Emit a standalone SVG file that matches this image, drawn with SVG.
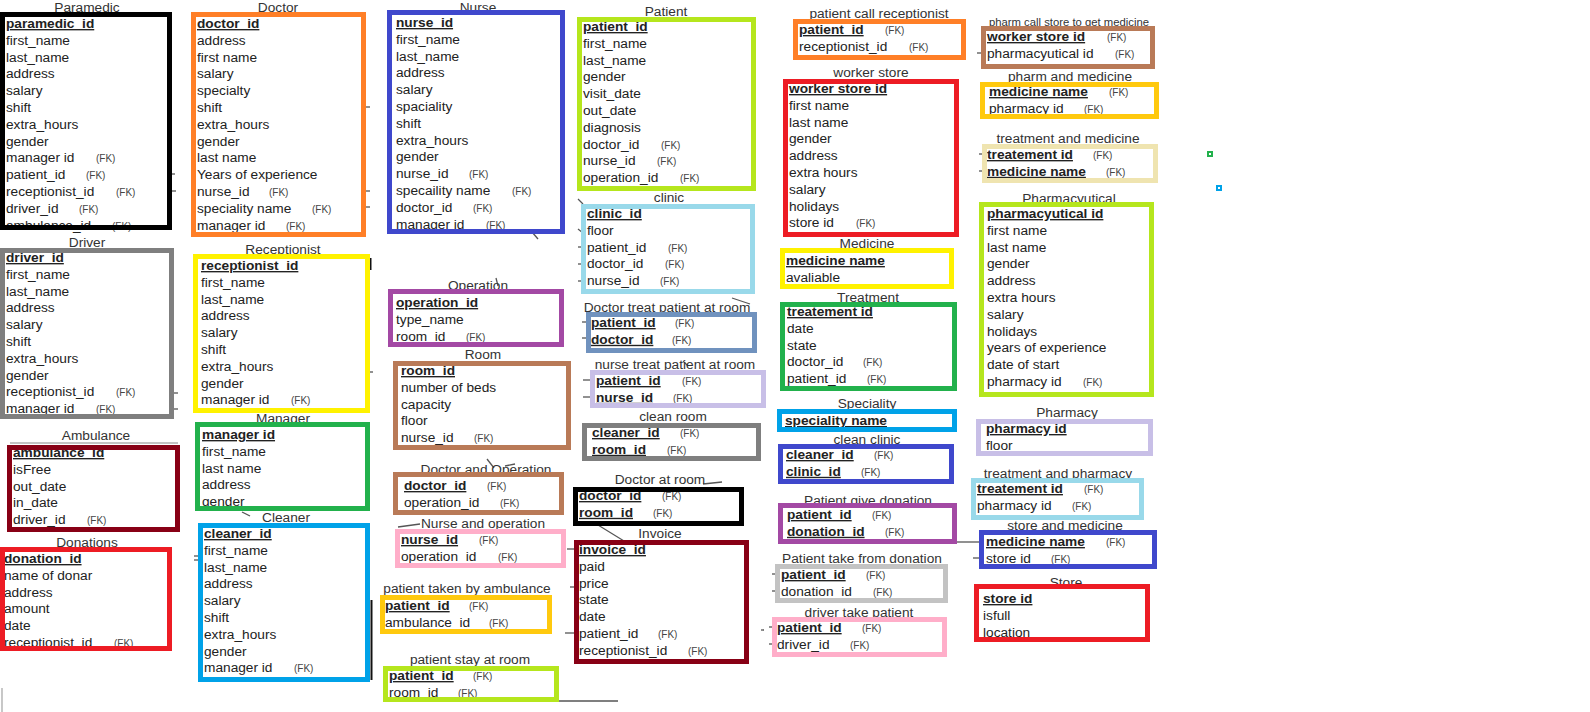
<svg xmlns="http://www.w3.org/2000/svg" width="1590" height="712" viewBox="0 0 1590 712">
<style>
text{font-family:"Liberation Sans",Arial,sans-serif;font-size:13.7px;fill:#222}
.ttl{text-anchor:middle;fill:#333}
.pk{font-weight:bold;text-decoration:underline}
.fk{font-size:10px;fill:#444}
.b{fill:none;stroke-width:5}
.bg{fill:#fff;stroke:none}
.cn line,.cn path{stroke:#555;stroke-width:1.3;fill:none}
.k{stroke:#000}.or{stroke:#FF7F27}.bl{stroke:#3F48CC}.li{stroke:#B5E61D}.gr{stroke:#7F7F7F}
.ye{stroke:#FFF200}.gn{stroke:#22B14C}.dr{stroke:#880015}.rd{stroke:#ED1C24}.sk{stroke:#00A2E8}
.pu{stroke:#A349A4}.br{stroke:#B97A57}.lb{stroke:#99D9EA}.st{stroke:#7092BE}.lv{stroke:#C8BFE7}
.pk2{stroke:#FFAEC9}.am{stroke:#FFC90E}.be{stroke:#EFE4B0}.si{stroke:#C3C3C3}
</style>
<rect width="1590" height="712" fill="#fff"/>
<g id="connectors" class="cn">
<line x1="578" y1="199" x2="583" y2="204"/>
<line x1="578" y1="229" x2="583" y2="233"/>
<line x1="532" y1="232" x2="538" y2="239"/>
<line x1="578" y1="247" x2="583" y2="247"/>
<line x1="578" y1="264" x2="583" y2="264"/>
<line x1="578" y1="281" x2="583" y2="281"/>
<line x1="582" y1="322" x2="588" y2="322"/>
<line x1="582" y1="338" x2="588" y2="338"/>
<line x1="732" y1="298" x2="750" y2="304"/>
<line x1="583" y1="380" x2="590" y2="380"/>
<line x1="583" y1="397" x2="590" y2="397"/>
<line x1="683" y1="361" x2="688" y2="366"/>
<line x1="496" y1="278" x2="498" y2="286"/>
<line x1="487" y1="459" x2="494" y2="468"/>
<line x1="505" y1="466" x2="515" y2="464"/>
<line x1="703" y1="484" x2="722" y2="482"/>
<line x1="598" y1="525" x2="624" y2="541"/>
<line x1="398" y1="527" x2="420" y2="524"/>
<line x1="567" y1="549" x2="577" y2="549"/>
<line x1="570" y1="587" x2="577" y2="587"/>
<line x1="565" y1="633" x2="577" y2="633"/>
<line x1="557" y1="701" x2="618" y2="701"/>
<line x1="485" y1="698" x2="491" y2="698"/>
<line x1="371.5" y1="600" x2="371.5" y2="680" style="stroke:#111;stroke-width:2"/>
<line x1="366" y1="107" x2="370" y2="107"/>
<line x1="366" y1="191" x2="370" y2="191"/>
<line x1="366" y1="207" x2="370" y2="207"/>
<line x1="172" y1="174" x2="175" y2="174"/>
<line x1="172" y1="191" x2="176" y2="191"/>
<line x1="174" y1="393" x2="178" y2="393"/>
<line x1="174" y1="409" x2="178" y2="409"/>
<line x1="370.5" y1="258" x2="370.5" y2="270" style="stroke:#111;stroke-width:2"/>
<line x1="370" y1="372" x2="373" y2="372"/>
<line x1="194" y1="556" x2="198" y2="556"/>
<line x1="194" y1="560" x2="198" y2="560"/>
<line x1="242" y1="512" x2="250" y2="516"/>
<line x1="2" y1="688" x2="2" y2="712" style="stroke:#aaa"/>
<line x1="977" y1="53" x2="981" y2="53"/>
<line x1="979" y1="154" x2="982" y2="154"/>
<line x1="979" y1="171" x2="982" y2="171"/>
<line x1="957" y1="542" x2="979" y2="542"/>
<line x1="973" y1="558" x2="979" y2="558"/>
<line x1="772" y1="574" x2="776" y2="574"/>
<line x1="772" y1="591" x2="776" y2="591"/>
<line x1="769" y1="627" x2="773" y2="627"/>
<line x1="769" y1="644" x2="773" y2="644"/>
<line x1="974" y1="598" x2="978" y2="598" style="stroke:#111;stroke-width:2"/>
<line x1="761" y1="630" x2="764" y2="630"/>
</g>

<g id="paramedic">
<text class="ttl" x="87" y="11.5">Paramedic</text>
<rect class="bg" x="2.5" y="14.5" width="167" height="213"/>
<text class="pk" x="6" y="28">paramedic_id</text>
<text x="6" y="44.8">first_name</text>
<text x="6" y="61.6">last_name</text>
<text x="6" y="78.4">address</text>
<text x="6" y="95.2">salary</text>
<text x="6" y="112">shift</text>
<text x="6" y="128.8">extra_hours</text>
<text x="6" y="145.6">gender</text>
<text x="6" y="162.4">manager id</text><text class="fk" x="96" y="162.4">(FK)</text>
<text x="6" y="179.2">patient_id</text><text class="fk" x="86" y="179.2">(FK)</text>
<text x="6" y="196">receptionist_id</text><text class="fk" x="116" y="196">(FK)</text>
<text x="6" y="212.8">driver_id</text><text class="fk" x="79" y="212.8">(FK)</text>
<text x="6" y="229.6">ambulance_id</text><text class="fk" x="112" y="229.6">(FK)</text>
<rect class="b k" x="2.5" y="14.5" width="167" height="213"/>
</g>

<g id="doctor">
<text class="ttl" x="278" y="11.5">Doctor</text>
<rect class="bg" x="193.5" y="14.5" width="170" height="220"/>
<text class="pk" x="197" y="28">doctor_id</text>
<text x="197" y="44.8">address</text>
<text x="197" y="61.6">first name</text>
<text x="197" y="78.4">salary</text>
<text x="197" y="95.2">specialty</text>
<text x="197" y="112">shift</text>
<text x="197" y="128.8">extra_hours</text>
<text x="197" y="145.6">gender</text>
<text x="197" y="162.4">last name</text>
<text x="197" y="179.2">Years of experience</text>
<text x="197" y="196">nurse_id</text><text class="fk" x="269" y="196">(FK)</text>
<text x="197" y="212.8">speciality name</text><text class="fk" x="312" y="212.8">(FK)</text>
<text x="197" y="229.6">manager id</text><text class="fk" x="286" y="229.6">(FK)</text>
<rect class="b or" x="193.5" y="14.5" width="170" height="220"/>
</g>

<g id="nurse">
<text class="ttl" x="478" y="11.5">Nurse</text>
<rect class="bg" x="389.5" y="12.5" width="173" height="219"/>
<text class="pk" x="396" y="27">nurse_id</text>
<text x="396" y="43.8">first_name</text>
<text x="396" y="60.6">last_name</text>
<text x="396" y="77.4">address</text>
<text x="396" y="94.2">salary</text>
<text x="396" y="111">spaciality</text>
<text x="396" y="127.8">shift</text>
<text x="396" y="144.6">extra_hours</text>
<text x="396" y="161.4">gender</text>
<text x="396" y="178.2">nurse_id</text><text class="fk" x="469" y="178.2">(FK)</text>
<text x="396" y="195">specaility name</text><text class="fk" x="512" y="195">(FK)</text>
<text x="396" y="211.8">doctor_id</text><text class="fk" x="473" y="211.8">(FK)</text>
<text x="396" y="228.6">manager id</text><text class="fk" x="486" y="228.6">(FK)</text>
<rect class="b bl" x="389.5" y="12.5" width="173" height="219"/>
</g>

<g id="patient">
<text class="ttl" x="666" y="15.5">Patient</text>
<rect class="bg" x="579.5" y="19.5" width="174" height="169"/>
<text class="pk" x="583" y="31">patient_id</text>
<text x="583" y="47.8">first_name</text>
<text x="583" y="64.6">last_name</text>
<text x="583" y="81.4">gender</text>
<text x="583" y="98.2">visit_date</text>
<text x="583" y="115">out_date</text>
<text x="583" y="131.8">diagnosis</text>
<text x="583" y="148.6">doctor_id</text><text class="fk" x="661" y="148.6">(FK)</text>
<text x="583" y="165.4">nurse_id</text><text class="fk" x="657" y="165.4">(FK)</text>
<text x="583" y="182.2">operation_id</text><text class="fk" x="680" y="182.2">(FK)</text>
<rect class="b li" x="579.5" y="19.5" width="174" height="169"/>
</g>

<g id="driver">
<text class="ttl" x="87" y="246.5">Driver</text>
<rect class="bg" x="2.5" y="250.5" width="169" height="166"/>
<text class="pk" x="6" y="262">driver_id</text>
<text x="6" y="278.8">first_name</text>
<text x="6" y="295.6">last_name</text>
<text x="6" y="312.4">address</text>
<text x="6" y="329.2">salary</text>
<text x="6" y="346">shift</text>
<text x="6" y="362.8">extra_hours</text>
<text x="6" y="379.6">gender</text>
<text x="6" y="396.4">receptionist_id</text><text class="fk" x="116" y="396.4">(FK)</text>
<text x="6" y="413.2">manager id</text><text class="fk" x="96" y="413.2">(FK)</text>
<rect class="b gr" x="2.5" y="250.5" width="169" height="166"/>
</g>

<g id="receptionist">
<text class="ttl" x="283" y="253.5">Receptionist</text>
<rect class="bg" x="195.5" y="256.5" width="172" height="154"/>
<text class="pk" x="201" y="270">receptionist_id</text>
<text x="201" y="286.8">first_name</text>
<text x="201" y="303.6">last_name</text>
<text x="201" y="320.4">address</text>
<text x="201" y="337.2">salary</text>
<text x="201" y="354">shift</text>
<text x="201" y="370.8">extra_hours</text>
<text x="201" y="387.6">gender</text>
<text x="201" y="404.4">manager id</text><text class="fk" x="291" y="404.4">(FK)</text>
<rect class="b ye" x="195.5" y="256.5" width="172" height="154"/>
</g>

<g id="manager">
<text class="ttl" x="283" y="422.5">Manager</text>
<rect class="bg" x="197.5" y="424.5" width="170" height="84"/>
<text class="pk" x="202" y="439">manager id</text>
<text x="202" y="455.8">first_name</text>
<text x="202" y="472.6">last name</text>
<text x="202" y="489.4">address</text>
<text x="202" y="506.2">gender</text>
<rect class="b gn" x="197.5" y="424.5" width="170" height="84"/>
</g>

<g id="ambulance">
<text class="ttl" x="96" y="439.5">Ambulance</text>
<line x1="10" y1="443" x2="178" y2="443" style="stroke:#888;stroke-width:1"/>
<rect class="bg" x="9.5" y="447.5" width="168" height="82"/>
<text class="pk" x="13" y="457">ambulance_id</text>
<text x="13" y="473.8">isFree</text>
<text x="13" y="490.6">out_date</text>
<text x="13" y="507.4">in_date</text>
<text x="13" y="524.2">driver_id</text><text class="fk" x="87" y="524.2">(FK)</text>
<rect class="b dr" x="9.5" y="447.5" width="168" height="82"/>
</g>

<g id="donations">
<text class="ttl" x="87" y="546.5">Donations</text>
<rect class="bg" x="2.5" y="549.5" width="167" height="99"/>
<text class="pk" x="4" y="563">donation_id</text>
<text x="4" y="579.8">name of donar</text>
<text x="4" y="596.6">address</text>
<text x="4" y="613.4">amount</text>
<text x="4" y="630.2">date</text>
<text x="4" y="647">receptionist_id</text><text class="fk" x="114" y="647">(FK)</text>
<rect class="b rd" x="2.5" y="549.5" width="167" height="99"/>
</g>

<g id="cleaner">
<text class="ttl" x="286" y="521.5">Cleaner</text>
<rect class="bg" x="200.5" y="525.5" width="167" height="154"/>
<text class="pk" x="204" y="538">cleaner_id</text>
<text x="204" y="554.8">first_name</text>
<text x="204" y="571.6">last_name</text>
<text x="204" y="588.4">address</text>
<text x="204" y="605.2">salary</text>
<text x="204" y="622">shift</text>
<text x="204" y="638.8">extra_hours</text>
<text x="204" y="655.6">gender</text>
<text x="204" y="672.4">manager id</text><text class="fk" x="294" y="672.4">(FK)</text>
<rect class="b sk" x="200.5" y="525.5" width="167" height="154"/>
</g>

<g id="clinic">
<text class="ttl" x="669" y="201.5">clinic</text>
<rect class="bg" x="583.5" y="206.5" width="169" height="85"/>
<text class="pk" x="587" y="218">clinic_id</text>
<text x="587" y="234.8">floor</text>
<text x="587" y="251.6">patient_id</text><text class="fk" x="668" y="251.6">(FK)</text>
<text x="587" y="268.4">doctor_id</text><text class="fk" x="665" y="268.4">(FK)</text>
<text x="587" y="285.2">nurse_id</text><text class="fk" x="660" y="285.2">(FK)</text>
<rect class="b lb" x="583.5" y="206.5" width="169" height="85"/>
</g>

<g id="operation">
<text class="ttl" x="478" y="289.5">Operation</text>
<rect class="bg" x="390.5" y="291.5" width="171" height="53"/>
<text class="pk" x="396" y="307">operation_id</text>
<text x="396" y="323.8">type_name</text>
<text x="396" y="340.6">room_id</text><text class="fk" x="466" y="340.6">(FK)</text>
<rect class="b pu" x="390.5" y="291.5" width="171" height="53"/>
</g>

<g id="room">
<text class="ttl" x="483" y="358.5">Room</text>
<rect class="bg" x="395.5" y="363.5" width="173" height="84"/>
<text class="pk" x="401" y="375">room_id</text>
<text x="401" y="391.8">number of beds</text>
<text x="401" y="408.6">capacity</text>
<text x="401" y="425.4">floor</text>
<text x="401" y="442.2">nurse_id</text><text class="fk" x="474" y="442.2">(FK)</text>
<rect class="b br" x="395.5" y="363.5" width="173" height="84"/>
</g>

<g id="doctor-treat-patient">
<text class="ttl" x="667" y="311.5">Doctor treat patient at room</text>
<rect class="bg" x="588.5" y="314.5" width="166" height="36"/>
<text class="pk" x="591" y="327">patient_id</text><text class="fk" x="675" y="327">(FK)</text>
<text class="pk" x="591" y="343.8">doctor_id</text><text class="fk" x="672" y="343.8">(FK)</text>
<rect class="b st" x="588.5" y="314.5" width="166" height="36"/>
</g>

<g id="nurse-treat-patient">
<text class="ttl" x="675" y="368.5">nurse treat patient at room</text>
<rect class="bg" x="592.5" y="372.5" width="171" height="33"/>
<text class="pk" x="596" y="385">patient_id</text><text class="fk" x="682" y="385">(FK)</text>
<text class="pk" x="596" y="401.8">nurse_id</text><text class="fk" x="673" y="401.8">(FK)</text>
<rect class="b lv" x="592.5" y="372.5" width="171" height="33"/>
</g>

<g id="clean-room">
<text class="ttl" x="673" y="420.5">clean room</text>
<rect class="bg" x="584.5" y="425.5" width="174" height="33"/>
<text class="pk" x="592" y="437">cleaner_id</text><text class="fk" x="680" y="437">(FK)</text>
<text class="pk" x="592" y="453.8">room_id</text><text class="fk" x="667" y="453.8">(FK)</text>
<rect class="b gr" x="584.5" y="425.5" width="174" height="33"/>
</g>

<g id="doctor-and-operation">
<text class="ttl" x="486" y="473.5">Doctor and Operation</text>
<rect class="bg" x="395.5" y="474.5" width="166" height="38"/>
<text class="pk" x="404" y="490">doctor_id</text><text class="fk" x="487" y="490">(FK)</text>
<text x="404" y="506.8">operation_id</text><text class="fk" x="500" y="506.8">(FK)</text>
<rect class="b br" x="395.5" y="474.5" width="166" height="38"/>
</g>

<g id="doctor-at-room">
<text class="ttl" x="660" y="483.5">Doctor at room</text>
<rect class="bg" x="575.5" y="489.5" width="166" height="34"/>
<text class="pk" x="579" y="500">doctor_id</text><text class="fk" x="662" y="500">(FK)</text>
<text class="pk" x="579" y="516.8">room_id</text><text class="fk" x="653" y="516.8">(FK)</text>
<rect class="b k" x="575.5" y="489.5" width="166" height="34"/>
</g>

<g id="nurse-and-operation">
<text class="ttl" x="483" y="527.5">Nurse and operation</text>
<rect class="bg" x="397.5" y="531.5" width="166" height="34"/>
<text class="pk" x="401" y="544">nurse_id</text><text class="fk" x="479" y="544">(FK)</text>
<text x="401" y="560.8">operation_id</text><text class="fk" x="498" y="560.8">(FK)</text>
<rect class="b pk2" x="397.5" y="531.5" width="166" height="34"/>
</g>

<g id="invoice">
<text class="ttl" x="660" y="537.5">Invoice</text>
<rect class="bg" x="576.5" y="542.5" width="170" height="119"/>
<text class="pk" x="579" y="554">invoice_id</text>
<text x="579" y="570.8">paid</text>
<text x="579" y="587.6">price</text>
<text x="579" y="604.4">state</text>
<text x="579" y="621.2">date</text>
<text x="579" y="638">patient_id</text><text class="fk" x="658" y="638">(FK)</text>
<text x="579" y="654.8">receptionist_id</text><text class="fk" x="688" y="654.8">(FK)</text>
<rect class="b dr" x="576.5" y="542.5" width="170" height="119"/>
</g>

<g id="patient-taken-by-ambulance">
<text class="ttl" x="467" y="592.5">patient taken by ambulance</text>
<rect class="bg" x="382.5" y="597.5" width="167" height="34"/>
<text class="pk" x="385" y="610">patient_id</text><text class="fk" x="469" y="610">(FK)</text>
<text x="385" y="626.8">ambulance_id</text><text class="fk" x="489" y="626.8">(FK)</text>
<rect class="b am" x="382.5" y="597.5" width="167" height="34"/>
</g>

<g id="patient-stay-at-room">
<text class="ttl" x="470" y="663.5">patient stay at room</text>
<rect class="bg" x="385.5" y="668.5" width="171" height="31"/>
<text class="pk" x="389" y="680">patient_id</text><text class="fk" x="473" y="680">(FK)</text>
<text x="389" y="696.8">room_id</text><text class="fk" x="458" y="696.8">(FK)</text>
<rect class="b li" x="385.5" y="668.5" width="171" height="31"/>
</g>

<g id="patient-call-receptionist">
<text class="ttl" x="879" y="17.5">patient call receptionist</text>
<rect class="bg" x="795.5" y="21.5" width="168" height="36"/>
<text class="pk" x="799" y="34">patient_id</text><text class="fk" x="885" y="34">(FK)</text>
<text x="799" y="50.8">receptionist_id</text><text class="fk" x="909" y="50.8">(FK)</text>
<rect class="b or" x="795.5" y="21.5" width="168" height="36"/>
</g>

<g id="worker-store">
<text class="ttl" x="871" y="76.5">worker store</text>
<rect class="bg" x="785.5" y="81.5" width="171" height="153"/>
<text class="pk" x="789" y="93">worker store id</text>
<text x="789" y="109.8">first name</text>
<text x="789" y="126.6">last name</text>
<text x="789" y="143.4">gender</text>
<text x="789" y="160.2">address</text>
<text x="789" y="177">extra hours</text>
<text x="789" y="193.8">salary</text>
<text x="789" y="210.6">holidays</text>
<text x="789" y="227.4">store id</text><text class="fk" x="856" y="227.4">(FK)</text>
<rect class="b rd" x="785.5" y="81.5" width="171" height="153"/>
</g>

<g id="pharm-call-store">
<text class="ttl" x="1069" y="26" style="font-size:11.3px">pharm call store to get medicine</text>
<rect class="bg" x="983.5" y="28.5" width="169" height="38"/>
<text class="pk" x="987" y="41">worker store id</text><text class="fk" x="1107" y="41">(FK)</text>
<text x="987" y="57.8">pharmacyutical id</text><text class="fk" x="1115" y="57.8">(FK)</text>
<rect class="b br" x="983.5" y="28.5" width="169" height="38"/>
</g>

<g id="pharm-and-medicine">
<text class="ttl" x="1070" y="80.5">pharm and medicine</text>
<rect class="bg" x="982.5" y="84.5" width="174" height="32"/>
<text class="pk" x="989" y="96">medicine name</text><text class="fk" x="1109" y="96">(FK)</text>
<text x="989" y="112.8">pharmacy id</text><text class="fk" x="1084" y="112.8">(FK)</text>
<rect class="b am" x="982.5" y="84.5" width="174" height="32"/>
</g>

<g id="treatment-and-medicine">
<text class="ttl" x="1068" y="142.5">treatment and medicine</text>
<rect class="bg" x="984.5" y="146.5" width="171" height="34"/>
<text class="pk" x="987" y="159">treatement id</text><text class="fk" x="1093" y="159">(FK)</text>
<text class="pk" x="987" y="175.8">medicine name</text><text class="fk" x="1106" y="175.8">(FK)</text>
<rect class="b be" x="984.5" y="146.5" width="171" height="34"/>
</g>

<g id="pharmacyutical">
<text class="ttl" x="1069" y="202.5">Pharmacyutical</text>
<rect class="bg" x="981.5" y="204.5" width="170" height="190"/>
<text class="pk" x="987" y="218">pharmacyutical id</text>
<text x="987" y="234.8">first name</text>
<text x="987" y="251.6">last name</text>
<text x="987" y="268.4">gender</text>
<text x="987" y="285.2">address</text>
<text x="987" y="302">extra hours</text>
<text x="987" y="318.8">salary</text>
<text x="987" y="335.6">holidays</text>
<text x="987" y="352.4">years of experience</text>
<text x="987" y="369.2">date of start</text>
<text x="987" y="386">pharmacy id</text><text class="fk" x="1083" y="386">(FK)</text>
<rect class="b li" x="981.5" y="204.5" width="170" height="190"/>
</g>

<g id="medicine">
<text class="ttl" x="867" y="247.5">Medicine</text>
<rect class="bg" x="782.5" y="250.5" width="169" height="36"/>
<text class="pk" x="786" y="265">medicine name</text>
<text x="786" y="281.8">avaliable</text>
<rect class="b ye" x="782.5" y="250.5" width="169" height="36"/>
</g>

<g id="treatment">
<text class="ttl" x="868" y="301.5">Treatment</text>
<rect class="bg" x="782.5" y="304.5" width="172" height="84"/>
<text class="pk" x="787" y="316">treatement id</text>
<text x="787" y="332.8">date</text>
<text x="787" y="349.6">state</text>
<text x="787" y="366.4">doctor_id</text><text class="fk" x="863" y="366.4">(FK)</text>
<text x="787" y="383.2">patient_id</text><text class="fk" x="867" y="383.2">(FK)</text>
<rect class="b gn" x="782.5" y="304.5" width="172" height="84"/>
</g>

<g id="speciality">
<text class="ttl" x="867" y="407.5">Speciality</text>
<rect class="bg" x="779.5" y="411.5" width="175" height="18"/>
<text class="pk" x="785" y="425">speciality name</text>
<rect class="b sk" x="779.5" y="411.5" width="175" height="18"/>
</g>

<g id="clean-clinic">
<text class="ttl" x="867" y="443.5">clean clinic</text>
<rect class="bg" x="780.5" y="446.5" width="171" height="35"/>
<text class="pk" x="786" y="459">cleaner_id</text><text class="fk" x="874" y="459">(FK)</text>
<text class="pk" x="786" y="475.8">clinic_id</text><text class="fk" x="861" y="475.8">(FK)</text>
<rect class="b bl" x="780.5" y="446.5" width="171" height="35"/>
</g>

<g id="pharmacy">
<text class="ttl" x="1067" y="416.5">Pharmacy</text>
<rect class="bg" x="978.5" y="421.5" width="172" height="32"/>
<text class="pk" x="986" y="433">pharmacy id</text>
<text x="986" y="449.8">floor</text>
<rect class="b lv" x="978.5" y="421.5" width="172" height="32"/>
</g>

<g id="treatment-and-pharmacy">
<text class="ttl" x="1058" y="477.5">treatment and pharmacy</text>
<rect class="bg" x="973.5" y="480.5" width="168" height="37"/>
<text class="pk" x="977" y="493">treatement id</text><text class="fk" x="1084" y="493">(FK)</text>
<text x="977" y="509.8">pharmacy id</text><text class="fk" x="1072" y="509.8">(FK)</text>
<rect class="b lb" x="973.5" y="480.5" width="168" height="37"/>
</g>

<g id="patient-give-donation">
<text class="ttl" x="868" y="504.5">Patient give donation</text>
<rect class="bg" x="780.5" y="505.5" width="174" height="36"/>
<text class="pk" x="787" y="519">patient_id</text><text class="fk" x="872" y="519">(FK)</text>
<text class="pk" x="787" y="535.8">donation_id</text><text class="fk" x="885" y="535.8">(FK)</text>
<rect class="b pu" x="780.5" y="505.5" width="174" height="36"/>
</g>

<g id="store-and-medicine">
<text class="ttl" x="1065" y="529.5">store and medicine</text>
<rect class="bg" x="981.5" y="532.5" width="173" height="34"/>
<text class="pk" x="986" y="546">medicine name</text><text class="fk" x="1106" y="546">(FK)</text>
<text x="986" y="562.8">store id</text><text class="fk" x="1051" y="562.8">(FK)</text>
<rect class="b bl" x="981.5" y="532.5" width="173" height="34"/>
</g>

<g id="patient-take-from-donation">
<text class="ttl" x="862" y="562.5">Patient take from donation</text>
<rect class="bg" x="777.5" y="566.5" width="168" height="34"/>
<text class="pk" x="781" y="579">patient_id</text><text class="fk" x="866" y="579">(FK)</text>
<text x="781" y="595.8">donation_id</text><text class="fk" x="873" y="595.8">(FK)</text>
<rect class="b si" x="777.5" y="566.5" width="168" height="34"/>
</g>

<g id="driver-take-patient">
<text class="ttl" x="859" y="616.5">driver take patient</text>
<rect class="bg" x="774.5" y="619.5" width="170" height="35"/>
<text class="pk" x="777" y="632">patient_id</text><text class="fk" x="862" y="632">(FK)</text>
<text x="777" y="648.8">driver_id</text><text class="fk" x="850" y="648.8">(FK)</text>
<rect class="b pk2" x="774.5" y="619.5" width="170" height="35"/>
</g>

<g id="store">
<text class="ttl" x="1066" y="586.5">Store</text>
<rect class="bg" x="976.5" y="586.5" width="171" height="53"/>
<text class="pk" x="983" y="603">store id</text>
<text x="983" y="619.8">isfull</text>
<text x="983" y="636.6">location</text>
<rect class="b rd" x="976.5" y="586.5" width="171" height="53"/>
</g>

<g id="markers">
<rect x="1208" y="152" width="4" height="4" fill="#fff" stroke="#22B14C" stroke-width="2"/>
<rect x="1217" y="186" width="4" height="4" fill="#fff" stroke="#00A2E8" stroke-width="2"/>
</g>
</svg>
